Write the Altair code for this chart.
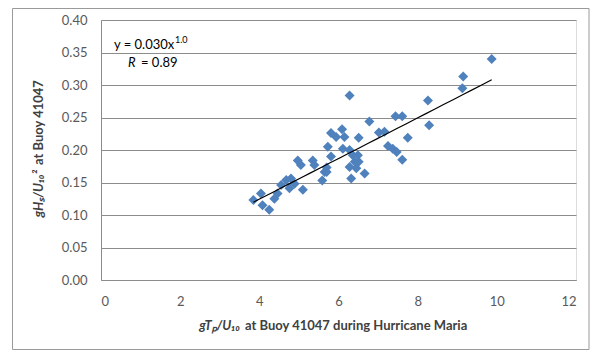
import altair as alt
import pandas as pd

# Data
gTp_U10 = [3.85, 4.04, 4.08, 4.25, 4.38, 4.46, 4.55, 4.68, 4.80, 4.76, 4.89, 5.10,
           4.97, 5.05, 5.35, 5.39, 5.59, 5.65, 5.73, 5.81, 5.70, 5.94, 6.09, 6.15,
           6.11, 6.28, 6.36, 6.49, 6.41, 6.51, 6.28, 6.45, 6.66, 6.32, 6.28, 6.51,
           6.78, 7.02, 7.16, 7.25, 7.37, 7.47, 7.61, 7.44, 7.61, 7.75, 8.26, 8.29,
           9.13, 9.15, 9.87, 5.81, 5.70]
gHs_U10sq = [0.123, 0.133, 0.115, 0.108, 0.125, 0.133, 0.146, 0.154, 0.156, 0.141, 0.148, 0.139,
             0.184, 0.177, 0.184, 0.177, 0.153, 0.166, 0.205, 0.190, 0.173, 0.220, 0.232, 0.220,
             0.202, 0.200, 0.192, 0.192, 0.182, 0.182, 0.174, 0.172, 0.164, 0.156, 0.284, 0.219,
             0.244, 0.227, 0.228, 0.206, 0.202, 0.197, 0.185, 0.252, 0.252, 0.219, 0.276, 0.238,
             0.295, 0.313, 0.340, 0.226, 0.166]

x_ticks = [0, 2, 4, 6, 8, 10, 12]
y_ticks = [0.00, 0.05, 0.10, 0.15, 0.20, 0.25, 0.30, 0.35, 0.40]

df = pd.DataFrame({"x": gTp_U10, "y": gHs_U10sq})

FONT = "Lato"
GRID = "#8c8c8c"
LABEL = "#595959"

X = alt.X("x:Q", scale=alt.Scale(domain=[0, 12], nice=False, zero=True),
          axis=alt.Axis(values=x_ticks, grid=False, ticks=False, tickSize=0,
                        labelPadding=15, title=None, domainColor=GRID,
                        labelColor=LABEL, labelFontSize=13, labelFont=FONT,
                        format="d", labelOverlap=False))
Y = alt.Y("y:Q", scale=alt.Scale(domain=[0, 0.40], nice=False, zero=True),
          axis=alt.Axis(values=y_ticks, grid=True, gridColor=GRID, ticks=False,
                        tickSize=0, labelPadding=14, title=None, domainColor=GRID,
                        labelColor=LABEL, labelFontSize=13, labelFont=FONT,
                        format=".2f", labelOverlap=False))

base = alt.Chart(df)

points = base.mark_point(shape="diamond", filled=True, size=100, opacity=1,
                         color="#4F81BD").encode(x=X, y=Y)

trend = base.transform_regression("x", "y", method="pow").mark_line(
    color="black", strokeWidth=1.2).encode(x=X, y=Y)

one = alt.Data(values=[{}])

border = alt.Chart(one).mark_rect(fill=None, stroke="#9a9a9a", strokeWidth=1).encode(
    x=alt.value(-88.5), x2=alt.value(488), y=alt.value(-11.5), y2=alt.value(329.5))

def txt(s, x, y, size=13, style="normal", weight="normal", align="left",
        angle=0, color="black", baseline="middle"):
    kw = dict(text=s, fontSize=size, fontStyle=style, fontWeight=weight,
              align=align, baseline=baseline, color=color, font=FONT)
    if angle:
        kw["angle"] = angle
    return alt.Chart(one).mark_text(**kw).encode(x=alt.value(x), y=alt.value(y))

annot = [
    txt("y = 0.030x", 13, 25),
    txt("1.0", 74, 20, size=9),
    txt("R", 27, 43, style="italic"),
    txt("= 0.89", 40, 43),
    # x title
    txt("gTₚ/U₁₀", 139, 306, style="italic", weight="bold", align="right", color="#404040"),
    txt("at Buoy 41047 during Hurricane Maria", 144, 306, weight="bold", align="left", color="#404040"),
    # y title (rotated)
    txt("gHₛ/U₁₀²", -62, 150, style="italic", weight="bold", align="right", angle=270, color="#404040"),
    txt("at Buoy 41047", -62, 145, weight="bold", align="left", angle=270, color="#404040"),
]

chart = alt.layer(border, points, trend, *annot).properties(
    width=475, height=260,
    autosize=alt.AutoSizeParams(type="none"),
    padding={"left": 93, "top": 12, "right": 17, "bottom": 70},
).configure_view(stroke=None).configure(background="white")

chart.save("out.html", embed_options={"renderer": "svg", "actions": False})
